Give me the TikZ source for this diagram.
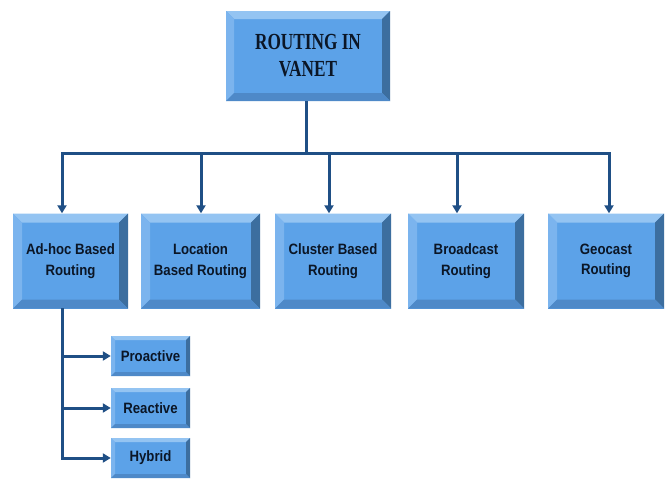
\documentclass[tikz,border=0pt]{standalone}
\usepackage{fontspec}
\setmainfont{Liberation Sans}
\newfontfamily\boxfont[FakeStretch=0.88]{Liberation Sans}
\newfontfamily\titlefont[FakeStretch=0.75]{Liberation Serif}
\usetikzlibrary{arrows.meta}
\definecolor{face}{HTML}{5CA2E8}
\definecolor{btop}{HTML}{94C4F2}
\definecolor{bleft}{HTML}{7BB4EE}
\definecolor{bright}{HTML}{3C6E9F}
\definecolor{bbot}{HTML}{4E89C8}
\definecolor{wire}{HTML}{1F4F85}
\definecolor{txt}{HTML}{0B1626}
\tikzset{
  bevel/.style={fill=face, inner sep=0pt, align=center, text=txt,
    path picture={
      \coordinate (pnw) at (path picture bounding box.north west);
      \coordinate (pne) at (path picture bounding box.north east);
      \coordinate (psw) at (path picture bounding box.south west);
      \coordinate (pse) at (path picture bounding box.south east);
      \fill[btop] (pnw) -- (pne) -- ([shift={(-#1,-#1)}]pne) -- ([shift={(#1,-#1)}]pnw) -- cycle;
      \fill[bleft] (pnw) -- ([shift={(#1,-#1)}]pnw) -- ([shift={(#1,#1)}]psw) -- (psw) -- cycle;
      \fill[bright] (pne) -- (pse) -- ([shift={(-#1,#1)}]pse) -- ([shift={(-#1,-#1)}]pne) -- cycle;
      \fill[bbot] (psw) -- ([shift={(#1,#1)}]psw) -- ([shift={(-#1,#1)}]pse) -- (pse) -- cycle;
    }},
  rowbox/.style={bevel=9pt, minimum height=95pt,
    font=\boxfont\bfseries\fontsize{15}{20.5}\selectfont},
  subbox/.style={bevel=4pt, minimum width=79pt, minimum height=40pt,
    font=\boxfont\bfseries\fontsize{15}{17}\selectfont},
  wireline/.style={draw=wire, line width=3pt},
  arr/.style={wireline, -{Triangle[length=8pt,width=9pt]}}
}
\begin{document}
\begin{tikzpicture}[x=1pt,y=-1pt]
\useasboundingbox (0,0) rectangle (670,479);
\fill[white] (0,0) rectangle (670,479);

\node[bevel=8pt, minimum width=164pt, minimum height=90pt,
  font=\titlefont\bfseries\fontsize{23}{27}\selectfont] (root) at (308,56) {ROUTING IN\\VANET};

\node[rowbox, minimum width=115pt] (b1) at (70.5,261) {Ad-hoc Based\\Routing};
\node[rowbox, minimum width=119pt] (b2) at (200.5,261) {Location\\Based Routing};
\node[rowbox, minimum width=116pt] (b3) at (333,261) {Cluster Based\\Routing};
\node[rowbox, minimum width=116pt] (b4) at (466,261) {Broadcast\\Routing};
\node[rowbox, minimum width=116pt] (b5) at (606,261) {Geocast\\Routing};

\node[subbox] (p) at (150.5,356) {Proactive};
\node[subbox] (r) at (150.5,408) {Reactive};
\node[subbox] (h) at (150.5,458) {Hybrid};

\coordinate (t) at (306,153);
\coordinate (j1) at (62,153);
\coordinate (j2) at (201,153);
\coordinate (j3) at (329,153);
\coordinate (j4) at (457,153);
\coordinate (j5) at (609,153);

\draw[wireline] (t |- root.south) -- (t);
\draw[wireline, line join=miter] (j1) ++(0,20) -- (j1) -- (j5) -- ++(0,20);
\draw[arr] (j1) -- (j1 |- b1.north);
\draw[arr] (j2) -- (j2 |- b2.north);
\draw[arr] (j3) -- (j3 |- b3.north);
\draw[arr] (j4) -- (j4 |- b4.north);
\draw[arr] (j5) -- (j5 |- b5.north);

\coordinate (s) at (62,308);
\draw[wireline, line join=miter] (s) -- (s |- h.west) -- ++(20,0);
\draw[arr] (s |- p.west) -- (p.west);
\draw[arr] (s |- r.west) -- (r.west);
\draw[arr] (s |- h.west) -- (h.west);
\end{tikzpicture}
\end{document}
